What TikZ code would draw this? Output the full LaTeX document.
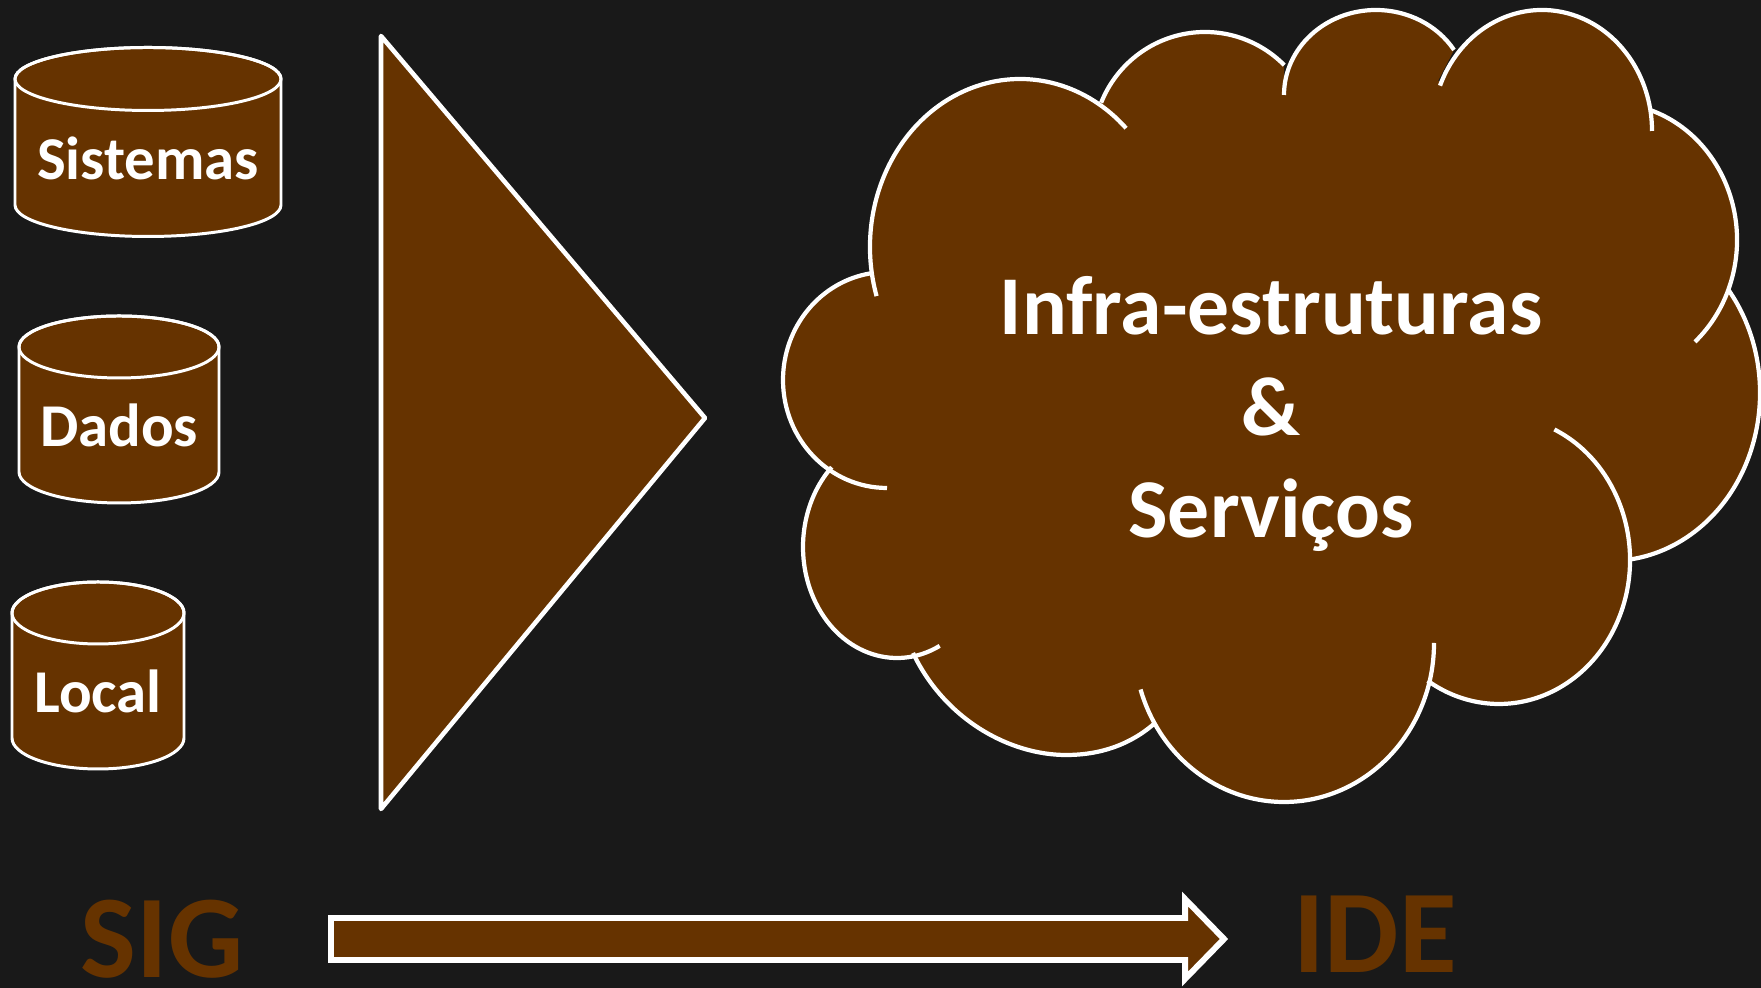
\documentclass[tikz,border=0pt]{standalone}
\usepackage{fontspec}
\usepackage{xcolor}
\setmainfont{Carlito}
\definecolor{bgdark}{HTML}{191919}
\definecolor{earth}{HTML}{663300}
\tikzset{
	shapeline/.style={color=white, fill=earth, line width=0.85pt},
	cyllabel/.style={anchor=base, text=white, font=\bfseries\fontsize{17.3}{20}\selectfont, inner sep=0pt},
	cloudlabel/.style={anchor=base, text=white, font=\bfseries\fontsize{23.8}{27}\selectfont, inner sep=0pt},
	endlabel/.style={anchor=base, text=earth, font=\bfseries\fontsize{33.6}{40}\selectfont, inner sep=0pt}
}
% cx/cy/rx/ry/start/end of each arc of the cloud
\newcommand{\cloudarcs}{8.87/6.08/1.04/1.08/-90/-261, 10.20/7.41/1.50/1.68/197/45, 12.05/8.43/1.12/1.13/158/45, 13.76/8.93/0.92/0.85/180/32, 15.42/8.57/1.10/1.21/158/0, 16.10/7.48/1.27/1.37/71/-48, 16.10/5.95/1.50/1.68/38/-82, 14.99/4.28/1.31/1.44/65/-123, 12.84/3.45/1.50/1.59/0/-163, 8.97/4.41/0.94/1.11/-63/-226}
\begin{document}
\begin{tikzpicture}
	\useasboundingbox (0,0) rectangle (17.61,9.88);
	\fill[bgdark] (0,0) rectangle (17.61,9.88);
	% cylinders
	\filldraw[shapeline] (0.15,9.09) -- (0.15,7.83) arc[start angle=180, end angle=360, x radius=1.33, y radius=0.315] -- (2.81,9.09) arc[start angle=0, end angle=180, x radius=1.33, y radius=0.315];
	\draw[color=white, line width=0.85pt] (1.48,9.09) ellipse (1.33 and 0.315);
	\node[cyllabel] (sistemas) at (1.48,8.08) {Sistemas};
	\filldraw[shapeline] (0.19,6.41) -- (0.19,5.16) arc[start angle=180, end angle=360, x radius=1.00, y radius=0.31] -- (2.19,6.41) arc[start angle=0, end angle=180, x radius=1.00, y radius=0.31];
	\draw[color=white, line width=0.85pt] (1.19,6.41) ellipse (1.00 and 0.31);
	\node[cyllabel] (dados) at (1.19,5.41) {Dados};
	\filldraw[shapeline] (0.12,3.75) -- (0.12,2.50) arc[start angle=180, end angle=360, x radius=0.86, y radius=0.31] -- (1.84,3.75) arc[start angle=0, end angle=180, x radius=0.86, y radius=0.31];
	\draw[color=white, line width=0.85pt] (0.98,3.75) ellipse (0.86 and 0.31);
	\node[cyllabel] (local) at (0.98,2.75) {Local};
	% triangle
	\filldraw[shapeline, line width=1.3pt, line join=round] (3.81,9.52) -- (7.05,5.70) -- (3.81,1.79) -- cycle;
	% cloud
	\fill[earth] (8.75,6.91) -- (11.27,8.60) -- (12.84,8.93) -- (14.40,9.07) -- (16.51,8.57) -- (16.95,6.50) -- (15.55,5.60) -- (14.34,3.45) -- (11.40,2.97) -- (9.39,3.42) -- (8.88,5.01) -- cycle;
	\foreach \cx/\cy/\rx/\ry/\sa/\ea in \cloudarcs {
		\fill[earth] (12.8,6.0) -- ({\cx+\rx*cos(\sa)},{\cy+\ry*sin(\sa)}) arc[start angle=\sa, end angle=\ea, x radius=\rx, y radius=\ry] -- cycle;
	}
	\fill[earth] (12.8,6.0) -- (9.13,3.35) .. controls (9.45,2.68) and (10.10,2.33) .. (10.66,2.33) .. controls (11.00,2.33) and (11.30,2.43) .. (11.55,2.65) -- cycle;
	\foreach \cx/\cy/\rx/\ry/\sa/\ea in \cloudarcs {
		\draw[color=white, line width=1.2pt] ({\cx+\rx*cos(\sa)},{\cy+\ry*sin(\sa)}) arc[start angle=\sa, end angle=\ea, x radius=\rx, y radius=\ry];
	}
	\draw[color=white, line width=1.2pt] (9.13,3.35) .. controls (9.45,2.68) and (10.10,2.33) .. (10.66,2.33) .. controls (11.00,2.33) and (11.30,2.43) .. (11.55,2.65);
	\node[cloudlabel] (infra) at (12.71,6.53) {Infra-estruturas};
	\node[cloudlabel] (and) at (12.71,5.52) {\&};
	\node[cloudlabel] (servicos) at (12.71,4.50) {Serviços};
	% bottom row
	\node[endlabel] (sig) at (1.62,0.10) {SIG};
	\filldraw[shapeline, line width=1.7pt] (3.31,0.70) -- (11.85,0.70) -- (11.85,0.89) -- (12.24,0.49) -- (11.85,0.09) -- (11.85,0.28) -- (3.31,0.28) -- cycle;
	\node[endlabel] (ide) at (13.75,0.15) {IDE};
\end{tikzpicture}
\end{document}
